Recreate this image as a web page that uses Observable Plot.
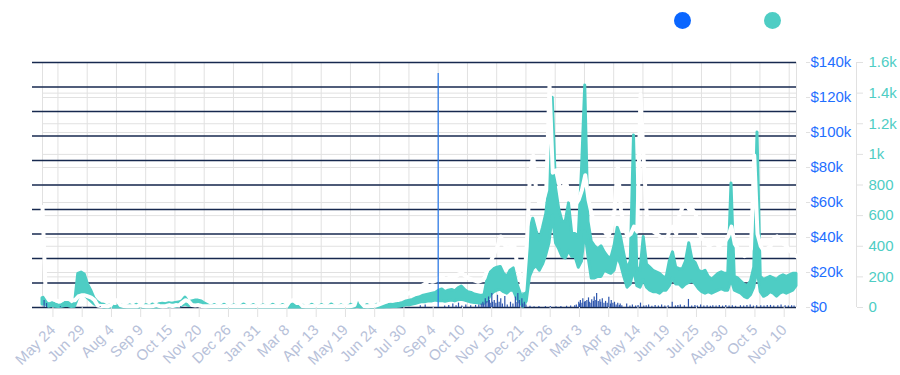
<!DOCTYPE html>
<html>
<head>
<meta charset="utf-8">
<script src="https://cdn.jsdelivr.net/npm/d3@7"></script>
<script src="https://cdn.jsdelivr.net/npm/@observablehq/plot@0.6"></script>
<style>
  html, body { margin: 0; padding: 0; background: #fff; }
  #wrap { position: relative; width: 900px; height: 375px; }
  .legend { position: absolute; top: 12px; left: 0; width: 900px; height: 20px; pointer-events: none; }
  .legend span { position: absolute; width: 17px; height: 17px; border-radius: 50%; }
</style>
</head>
<body>
<div id="wrap">
  <div class="legend">
    <span style="left:674px; background:#0a66ff" title="Volume"></span>
    <span style="left:764px; background:#4ecdc4" title="Sales"></span>
  </div>
</div>
<script>
// ---- data ----
const startDate = "2021-05-05";
const endDate = "2023-11-19";
const stepDays = 4; // sampling step of the series below

// x-axis tick dates
const tickDates = ["2021-05-24","2021-06-29","2021-08-04","2021-09-09","2021-10-15","2021-11-20","2021-12-26",
  "2022-01-31","2022-03-08","2022-04-13","2022-05-19","2022-06-24","2022-07-30","2022-09-04","2022-10-10",
  "2022-11-15","2022-12-21","2023-01-26","2023-03-03","2023-04-08","2023-05-14","2023-06-19","2023-07-25",
  "2023-08-30","2023-10-05","2023-11-10"];

// left ($) axis ticks and right (count) axis ticks
const usdTicks = [0,20000,40000,60000,80000,100000,120000,140000];
const countTicks = [0,200,400,600,800,1000,1200,1400,1600];
const whiteTicks = [0,1,2,3,4,5,6,7,8,9,10];

// teal series (count) envelope: low / high per sample
const tealLo = [20,20,5,10,5,3,5,10,10,3,5,60,90,80,60,40,20,10,5,
  0,0,0,0,0,0,0,0,0,0,0,0,0,0,0,0,0,0,
  3,3,4,3,4,6,10,20,10,15,15,15,10,5,2,
  0,0,0,0,0,0,0,0,0,0, 0,0,0,0,0,0,0,0,0,0, 0,0,0,0,0,0,0,0,0,0, 0,0,0,0,0,0,0,0,0,0, 0,0,0,0,0,5,0,0,0,0, 0,0,0,0,2,2,3,4,
  5,10,15,15,20,25,30,35,35,40,40,45,40,42,38,42,45,40,48,50,45,38,32,30,28,25,25,
  40,80,100,110,115,100,90,110,110,60,30,5,40,200,250,270,240,280,340,420,600,420,380,330,320,370,330,330,260,300,500,
  330,190,190,200,200,240,230,220,240,330,280,200,130,150,250,140,130,180,130,110,100,100,90,110,110,140,190,150,150,130,150,160,170,150,120,100,90,100,90,100,110,120,110,110,180,
  110,100,90,70,60,80,130,250,100,70,80,100,90,70,90,100,90,100,110,140];
const tealHi = [60,65,20,30,20,12,15,30,30,12,25,220,228,215,150,110,60,35,22,
  18,4,16,4,3,20,4,3,14,4,18,4,3,16,4,20,4,22,
  25,22,28,25,30,32,40,65,35,40,45,45,40,25,14,
  3,16,3,3,18,3,3,14,3,3, 20,3,3,16,3,3,14,3,3,18, 3,3,16,3,3,20,3,3,14,3, 3,18,3,3,16,3,3,20,3,3, 14,3,3,18,3,40,14,3,16,3, 3,18,3,14,14,18,16,22,
  25,30,40,45,50,60,65,75,80,85,90,95,110,118,100,110,115,105,125,137,115,100,95,85,80,75,80,
  190,230,250,260,265,220,200,240,255,160,100,40,250,500,580,500,440,520,610,800,1370,780,640,560,560,680,480,480,460,900,1450,
  560,430,400,380,400,360,330,320,400,520,460,350,250,300,1123,260,240,460,280,260,240,230,220,200,190,300,360,260,250,250,300,420,310,290,240,230,240,200,180,200,220,230,220,220,810,
  200,190,170,150,140,170,260,1143,200,180,190,200,190,180,200,210,200,210,220,220];

// white series (navy-grid axis units) per sample
const whiteVal = [4.1,0.5,0.3,0.35,0.3,0.25,0.3,0.4,0.4,0.3,0.3,0.45,0.5,0.5,0.45,0.4,0.3,0.08,0.06,
  0.06,0.05,0.1,0.3,0.3,0.1,0.06,0.05,0.05,0.06,0.05,0.1,0.06,0.05,0.05,0.06,0.1,0.06,
  0.05,0.06,0.1,0.06,0.1,0.08,0.2,0.3,0.25,0.1,0.08,0.1,0.06,0.05,0.05,
  0.05,0.06,0.05,0.05,0.06,0.05,0.05,0.06,0.05,0.05, 0.06,0.05,0.05,0.06,0.05,0.05,0.06,0.05,0.05,0.06, 0.05,0.05,0.06,0.05,0.25,0.3,0.3,0.2,0.06,0.05, 0.05,0.06,0.05,0.05,0.06,0.05,0.05,0.06,0.05,0.05, 0.06,0.05,0.05,0.06,0.1,0.5,0.2,0.06,0.05,0.06, 0.06,0.1,0.15,0.2,0.25,0.3,0.35,0.4,
  0.45,0.5,0.55,0.6,0.7,0.75,0.85,0.9,1.0,1.1,1.05,1.1,1.2,1.25,1.15,1.2,1.3,1.25,1.35,1.4,1.3,1.2,1.15,1.1,1.05,1.1,1.2,
  1.6,1.9,2.2,2.5,2.9,2.6,2.4,2.5,2.7,1.8,1.2,0.7,2.5,5.5,6.2,4.6,4.2,4.3,4.8,9.1,5.5,5.6,5.0,4.8,5.2,4.6,4.3,4.2,4.4,4.8,5.4,
  4.4,3.8,3.4,3.3,3.5,3.1,2.9,3.2,4.0,5.8,4.0,3.3,2.9,3.0,3.3,3.1,8.7,6.0,3.6,3.3,3.1,3.0,2.9,2.8,2.7,3.2,3.3,3.0,3.8,4.1,4.2,4.0,4.0,3.8,3.0,2.8,2.7,2.5,2.6,2.7,2.5,2.6,2.7,2.9,3.3,
  2.6,2.4,2.3,2.1,2.2,2.4,6.2,3.0,2.5,2.3,2.4,2.5,2.8,2.9,2.7,2.6,2.5,2.3,2.2,2.1];

// blue bars: day offset from start, $ volume
const barDay = [2,5,22,71,170,465,471,487,495,500,505,509,512,516,521,527,533,537,
  540,542,543,545,547,549,550,551,553,554,556,558,560,562,564,566,569,572,576,579,582,584,585,587,590,591,593,595,
  600,605,611,619,625,632,638,645,650,
  655,657,660,661,662,664,665,667,668,670,672,673,675,676,678,679,681,682,684,686,687,689,691,693,695,697,699,700,702,704,706,708,710,711,713,
  719,723,726,730,733,736,740,743,746,750,754,758,762,766,770,775,779,782,785,790,795,799,803,806,810,814,818,822,825,829,833,837,841,845,849,853,859,863,867,871,875,879,884,888,892,896,900,905,909,914,918,922,925];
const barUsd = [4000,2300,500,400,500,1000,1500,133700,800,1200,2000,1000,2500,800,1500,1000,1200,1500,
  2000,3000,2000,5000,3500,6000,4000,2500,8000,3000,4000,2500,7000,3000,5000,2000,6300,1500,3000,2000,6000,3000,8000,4000,5000,2000,3000,1500,
  700,500,600,500,600,500,600,700,800,
  1000,1500,3000,2000,4000,2500,5000,3000,3500,4000,5500,3000,2500,4500,3500,6000,4000,8000,3500,4500,3000,5000,2500,3500,2500,5900,2000,4000,2500,3000,1500,2500,1200,2000,1000,
  2000,800,1500,900,1200,2500,800,1000,1500,700,1200,900,1500,800,1000,3000,900,1200,1500,1000,4600,900,1200,800,1500,900,1000,700,1000,900,1200,800,1200,900,1000,700,1000,900,1200,1500,800,1000,1000,900,1200,1200,800,1000,1500,1000,900,1000,800];

// ---- build ----
const parse = d3.utcParse("%Y-%m-%d");
const t0 = parse(startDate), t1 = parse(endDate);
const dayAt = n => d3.utcDay.offset(t0, n);
const usdPerCount = 140000 / 1600;
const usdPerWhite = 14000;

const tealData = tealLo.map((lo, i) => ({date: dayAt(i * stepDays), lo: lo * usdPerCount, hi: tealHi[i] * usdPerCount}));
const whiteData = whiteVal.map((v, i) => ({date: dayAt(i * stepDays), v: v * usdPerWhite}));
const barData = barDay.map((d, i) => ({date: dayAt(d), v: barUsd[i]}));
const xTicks = tickDates.map(parse);

const gray = "#e1e1e1";
const navy = "#17294f";
const teal = "#4ecdc4";
const blue = "#1f6fff";
const fmtUsd = d => d === 0 ? "$0" : "$" + (d / 1000) + "k";
const fmtCount = c => c >= 1000 ? (c / 1000) + "k" : String(c);

const chart = Plot.plot({
  width: 900,
  height: 375,
  marginLeft: 42,
  marginRight: 104,
  marginTop: 62,
  marginBottom: 68,
  style: {fontFamily: "'Liberation Sans', Arial, Helvetica, sans-serif", background: "transparent", overflow: "visible"},
  x: {type: "utc", domain: [t0, t1]},
  y: {domain: [0, 140000]},
  marks: [
    Plot.gridX(xTicks, {stroke: gray, strokeOpacity: 1}),
    Plot.ruleX([t0, t1], {stroke: gray}),
    Plot.gridY(usdTicks, {stroke: gray, strokeOpacity: 1}),
    Plot.gridY(countTicks.map(c => c * usdPerCount), {stroke: gray, strokeOpacity: 1}),
    Plot.ruleY(whiteTicks.map(w => w * usdPerWhite), {stroke: navy, strokeWidth: 1.5}),
    Plot.axisY(whiteTicks.map(w => w * usdPerWhite), {anchor: "left", tickSize: 10, stroke: navy, strokeWidth: 1.5, tickFormat: () => "", fill: "white"}),
    Plot.areaY(tealData, {x: "date", y1: "lo", y2: "hi", fill: teal, stroke: teal, strokeWidth: 3, strokeLinejoin: "round"}),
    Plot.lineY(whiteData, {x: "date", y: "v", stroke: "white", strokeWidth: 4, strokeLinejoin: "round"}),
    Plot.ruleX(barData, {x: "date", y: "v", stroke: d => d.v > 50000 ? "#2577ea" : "#2d55ad", strokeWidth: 1.2}),
    Plot.axisX(xTicks, {anchor: "bottom", tickFormat: d3.utcFormat("%b %-d"), tickRotate: -45, tickSize: 10, tickPadding: 10, stroke: gray, fill: "#b7c1d9", fontSize: 15, dx: -5}),
    Plot.axisY(usdTicks, {anchor: "right", tickFormat: fmtUsd, tickSize: 4, tickPadding: 1, dx: 9, stroke: gray, fill: blue, fontSize: 15}),
    Plot.ruleX([t1], {dx: 60, stroke: gray}),
    Plot.axisY(countTicks.map(c => c * usdPerCount), {anchor: "right", tickFormat: d => fmtCount(Math.round(d / usdPerCount)), tickSize: 6, tickPadding: 6, dx: 60, stroke: gray, fill: teal, fontSize: 15})
  ]
});
document.getElementById("wrap").prepend(chart);
chart.style.position = "absolute";
chart.style.left = "0";
chart.style.top = "0";
</script>
</body>
</html>
